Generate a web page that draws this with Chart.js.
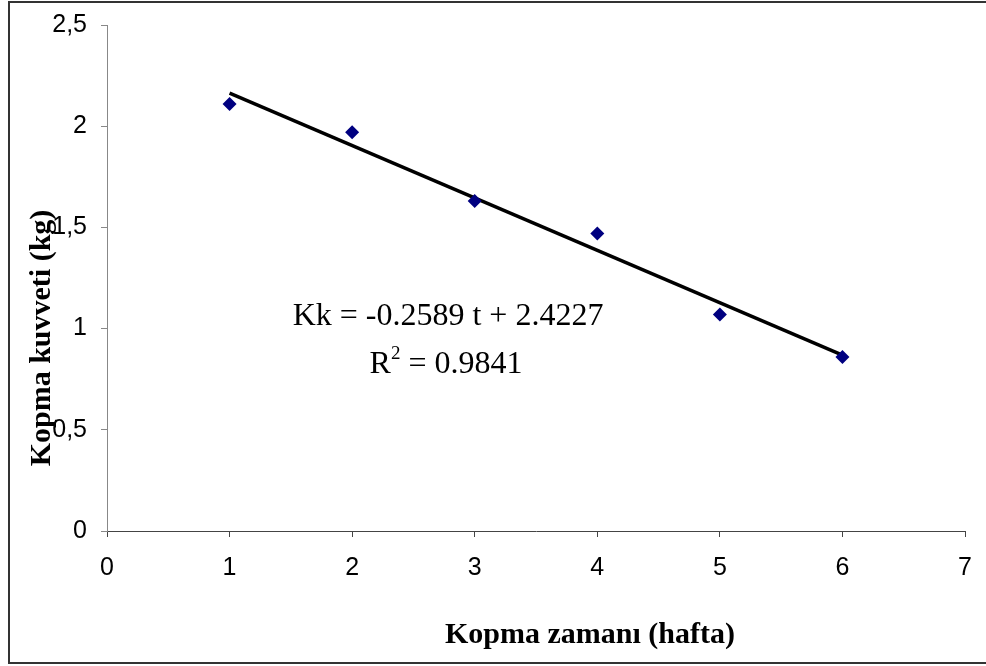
<!DOCTYPE html>
<html>
<head>
<meta charset="utf-8">
<script src="https://cdn.jsdelivr.net/npm/chart.js@4.4.1/dist/chart.umd.min.js"></script>
<style>
  html, body { margin: 0; padding: 0; background: #fff; }
  #wrap { width: 986px; height: 666px; }
</style>
</head>
<body>
<div id="wrap"><canvas id="KopmaChart"></canvas></div>
<script>
// measured points: kopma zamanı (hafta) vs kopma kuvveti (kg)
const weeks = [1, 2, 3, 4, 5, 6];
const force = [2.11, 1.97, 1.63, 1.47, 1.07, 0.86];

// trendline as printed on the chart
const slope = -0.2589;
const intercept = 2.4227;
const rSquared = "0.9841";
const trendX = [1, 6];

const yTicks = [0, 0.5, 1, 1.5, 2, 2.5];
const xTicks = [0, 1, 2, 3, 4, 5, 6, 7];

const xTitle = "Kopma zamanı (hafta)";
const yTitle = "Kopma kuvveti (kg)";

// frame, axis titles and the equation text
const decorations = {
    id: "decorations",
    afterDraw(chart) {
        const ctx = chart.ctx;
        ctx.save();

        // outer frame (right side runs off the picture)
        ctx.strokeStyle = "#333";
        ctx.lineWidth = 2;
        ctx.beginPath();
        ctx.moveTo(990, 2);
        ctx.lineTo(9, 2);
        ctx.lineTo(9, 663);
        ctx.lineTo(990, 663);
        ctx.stroke();

        ctx.fillStyle = "#000";
        ctx.font = "bold 30px 'Liberation Serif'";
        ctx.textAlign = "center";
        ctx.textBaseline = "middle";
        ctx.fillText(xTitle, 590, 635);

        ctx.save();
        ctx.translate(42, 338);
        ctx.rotate(-Math.PI / 2);
        ctx.fillText(yTitle, 0, 0);
        ctx.restore();

        // regression text
        ctx.font = "32px 'Liberation Serif'";
        ctx.textBaseline = "alphabetic";
        ctx.fillText("Kk = " + slope + " t + " + intercept, 448, 325);

        const rPart = "R";
        const rest = " = " + rSquared;
        const wR = ctx.measureText(rPart).width;
        ctx.font = "19px 'Liberation Serif'";
        const wSup = ctx.measureText("2").width;
        ctx.font = "32px 'Liberation Serif'";
        const wRest = ctx.measureText(rest).width;
        let x = 446 - (wR + wSup + wRest) / 2;
        ctx.textAlign = "left";
        ctx.fillText(rPart, x, 373);
        x += wR;
        ctx.font = "19px 'Liberation Serif'";
        ctx.fillText("2", x, 359);
        x += wSup;
        ctx.font = "32px 'Liberation Serif'";
        ctx.fillText(rest, x, 373);

        ctx.restore();
    }
};

const ctx = document.getElementById("KopmaChart").getContext("2d");
new Chart(ctx, {
    type: "scatter",
    data: {
        datasets: [
            {
                label: "Trend",
                type: "line",
                data: trendX.map(t => ({ x: t, y: slope * t + intercept })),
                borderColor: "#000",
                borderWidth: 3.5,
                pointRadius: 0,
                fill: false,
                order: 2
            },
            {
                label: "Kopma kuvveti",
                data: weeks.map((w, i) => ({ x: w, y: force[i] })),
                pointStyle: "rectRot",
                pointRadius: 7,
                pointHoverRadius: 7,
                backgroundColor: "#000080",
                borderColor: "#000080",
                borderWidth: 0,
                order: 1
            }
        ]
    },
    options: {
        responsive: true,
        maintainAspectRatio: false,
        animation: false,
        layout: { padding: { left: 8, top: 25, right: 21, bottom: 0 } },
        plugins: {
            legend: { display: false },
            tooltip: { enabled: false }
        },
        scales: {
            x: {
                type: "linear",
                min: 0,
                max: 7,
                afterFit: s => {
                    s.height = 135;
                    s.paddingLeft = 0;
                    s.paddingRight = 0;
                },
                afterBuildTicks: s => { s.ticks = xTicks.map(v => ({ value: v })); },
                grid: { drawOnChartArea: false, drawTicks: true, tickLength: 6, color: "#444" },
                border: { display: true, color: "#444", width: 1 },
                ticks: {
                    color: "#000",
                    padding: 16,
                    font: { family: "'Liberation Sans'", size: 25 }
                }
            },
            y: {
                min: 0,
                max: 2.5,
                afterFit: s => {
                    s.width = 99;
                    s.paddingTop = 0;
                    s.paddingBottom = 0;
                },
                afterBuildTicks: s => { s.ticks = yTicks.map(v => ({ value: v })); },
                grid: { drawOnChartArea: false, drawTicks: true, tickLength: 6, color: "#888" },
                border: { display: true, color: "#888", width: 1 },
                ticks: {
                    color: "#000",
                    padding: 14,
                    font: { family: "'Liberation Sans'", size: 25 },
                    callback: v => String(v).replace(".", ",")
                }
            }
        }
    },
    plugins: [decorations]
});
</script>
</body>
</html>
